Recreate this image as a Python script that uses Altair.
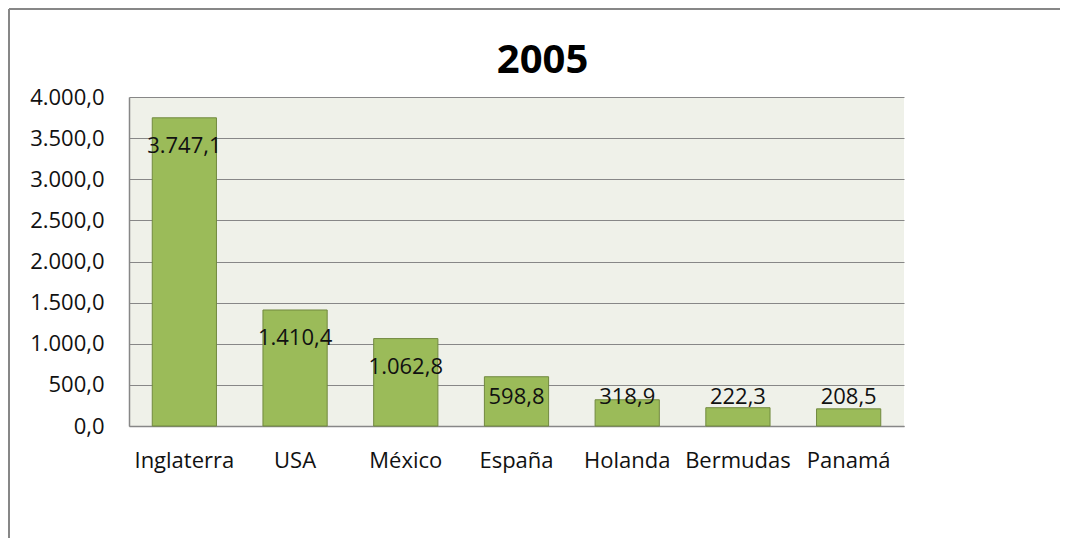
import altair as alt
import pandas as pd

paises = ["Inglaterra", "USA", "México", "España", "Holanda", "Bermudas", "Panamá"]
valores = [3747.1, 1410.4, 1062.8, 598.8, 318.9, 222.3, 208.5]
y_ticks = [0, 500, 1000, 1500, 2000, 2500, 3000, 3500, 4000]
titulo = ["2005"]

df = pd.DataFrame({"pais": paises, "valor": valores})

FONT = "Open Sans"
GRAY = "#878787"

x_enc = alt.X(
    "pais:N",
    sort=None,
    scale=alt.Scale(paddingInner=0.42, paddingOuter=0.21),
    axis=alt.Axis(
        title=None, labelAngle=0, labelFont=FONT, labelFontSize=22,
        labelColor="#111111", labelPadding=24, ticks=False,
        domainColor=GRAY, domainWidth=1.5, labelBaseline="top", grid=False,
    ),
)

base = alt.Chart(df)

bars = base.mark_bar(color="#9BBB59", stroke="#71893F", strokeWidth=1).encode(
    x=x_enc,
    y=alt.Y(
        "valor:Q",
        scale=alt.Scale(domain=[0, 4000], nice=False),
        axis=alt.Axis(
            values=y_ticks, format=",.1f", title=None, ticks=False,
            labelFont=FONT, labelFontSize=22, labelColor="#111111",
            labelPadding=25, gridColor=GRAY, gridWidth=1,
            domainColor=GRAY, domainWidth=1.5,
        ),
    ),
)

labels = base.transform_calculate(
    ly="max(datum.valor - 340, 352)"
).mark_text(font=FONT, fontSize=22, baseline="middle", align="center", color="#111111").encode(
    x=alt.X("pais:N", sort=None),
    y=alt.Y("ly:Q"),
    text=alt.Text("valor:Q", format=",.1f"),
)

title_df = pd.DataFrame({"t": titulo})
title_mark = alt.Chart(title_df).mark_text(
    font=FONT, fontSize=40, fontWeight="bold", color="#000000",
    align="center", baseline="alphabetic",
).encode(x=alt.value(413.5), y=alt.value(-24), text="t:N")

frame = pd.DataFrame({"k": [0]})
left_border = alt.Chart(frame).mark_rule(color=GRAY, strokeWidth=2).encode(
    x=alt.value(-120), y=alt.value(-88), y2=alt.value(441)
)
top_border = alt.Chart(frame).mark_rule(color=GRAY, strokeWidth=2).encode(
    x=alt.value(-120), x2=alt.value(931), y=alt.value(-88)
)

chart = alt.layer(bars, labels, title_mark, left_border, top_border).properties(
    width=775,
    height=329,
    autosize="none",
    padding={"left": 121, "top": 89, "right": 156, "bottom": 112},
).configure(
    locale={"number": {"decimal": ",", "thousands": ".", "grouping": [3], "currency": ["", "€"]}}
).configure_view(
    stroke=None, fill="#EFF1E9"
)

chart.save("out.html", embed_options={"renderer": "svg", "actions": False})
